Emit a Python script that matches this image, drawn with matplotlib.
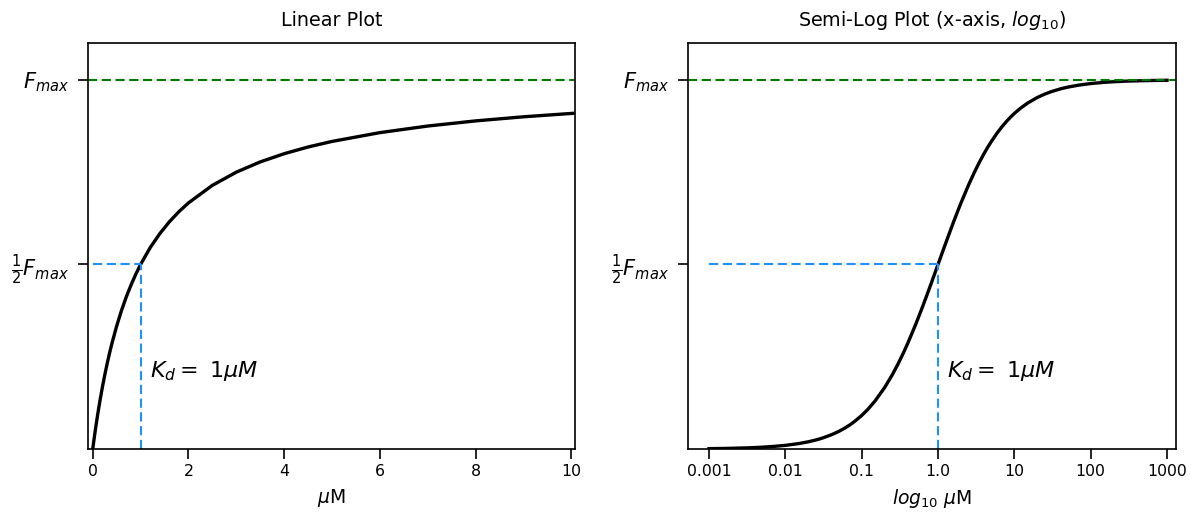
import matplotlib
matplotlib.use("Agg")
import matplotlib.pyplot as plt
from matplotlib.ticker import NullLocator

# Ligand concentration (uM) and fraction of maximal signal, Kd = 1 uM
conc = [0, 0.001, 0.0015, 0.002, 0.003, 0.004, 0.005, 0.007, 0.01, 0.015,
        0.02, 0.025, 0.03, 0.04, 0.05, 0.06, 0.07, 0.08, 0.1, 0.12, 0.15,
        0.2, 0.25, 0.3, 0.35, 0.4, 0.5, 0.6, 0.7, 0.8, 0.9, 1.0, 1.2, 1.4,
        1.6, 1.8, 2.0, 2.5, 3.0, 3.5, 4.0, 4.5, 5.0, 6.0, 7.0, 8.0, 9.0,
        10.0, 10.1, 12, 15, 20, 25, 30, 40, 50, 70, 100, 150, 200, 300, 500,
        1000]
frac_bound = [0.0, 0.001, 0.0015, 0.002, 0.003, 0.004, 0.005, 0.007, 0.0099,
              0.0148, 0.0196, 0.0244, 0.0291, 0.0385, 0.0476, 0.0566, 0.0654,
              0.0741, 0.0909, 0.1071, 0.1304, 0.1667, 0.2000, 0.2308, 0.2593,
              0.2857, 0.3333, 0.3750, 0.4118, 0.4444, 0.4737, 0.5000, 0.5455,
              0.5833, 0.6154, 0.6429, 0.6667, 0.7143, 0.7500, 0.7778, 0.8000,
              0.8182, 0.8333, 0.8571, 0.8750, 0.8889, 0.9000, 0.9091, 0.9099,
              0.9231, 0.9375, 0.9524, 0.9615, 0.9677, 0.9756, 0.9804, 0.9859,
              0.9901, 0.9934, 0.9950, 0.9967, 0.9980, 0.9990]

f_max = 1.0
kd = 1.0
lin_ticks = [0, 2, 4, 6, 8, 10]
log_ticks = [0.001, 0.01, 0.1, 1.0, 10, 100, 1000]
log_tick_labels = ["0.001", "0.01", "0.1", "1.0", "10", "100", "1000"]
y_ticks = [0.5 * f_max, f_max]
y_tick_labels = [r"$\frac{1}{2}F_{max}$", r"$F_{max}$"]

fig = plt.figure(figsize=(11.92, 5.16), dpi=100)
ax1 = fig.add_axes([0.0738, 0.1298, 0.4086, 0.7869])
ax2 = fig.add_axes([0.5772, 0.1298, 0.4094, 0.7869])

half = 0.5 * f_max
kd_label = r"$K_d =\ 1\mu M$"
dash = (0, (4.4, 2.2))
green = "#007a00"
blue = "dodgerblue"

# Linear axes
ax1.plot(conc, frac_bound, color="black", lw=2.4)
ax1.axhline(f_max, color=green, ls=dash, lw=1.5)
ax1.plot([0, kd], [half, half], color=blue, ls=dash, lw=1.5)
ax1.plot([kd, kd], [0, half], color=blue, ls=dash, lw=1.5)
ax1.set_xlim(-0.1, 10.08)
ax1.set_ylim(0, 1.1 * f_max)
ax1.set_xticks(lin_ticks)
ax1.set_xticklabels([str(t) for t in lin_ticks])
ax1.set_xlabel(r"$\mu$M", fontsize=13.5, labelpad=6)
ax1.set_title("Linear Plot", fontsize=13.8, pad=12)
ax1.text(1.2, 0.195, kd_label, fontsize=16)

# Semi-log axes
ax2.plot(conc[1:], frac_bound[1:], color="black", lw=2.4)
ax2.axhline(f_max, color=green, ls=dash, lw=1.5)
ax2.plot([0.001, kd], [half, half], color=blue, ls=dash, lw=1.5)
ax2.plot([kd, kd], [0, half], color=blue, ls=dash, lw=1.5)
ax2.set_xscale("log")
ax2.set_xlim(10 ** -3.275, 10 ** 3.118)
ax2.set_ylim(0, 1.1 * f_max)
ax2.set_xticks(log_ticks)
ax2.set_xticklabels(log_tick_labels)
ax2.xaxis.set_minor_locator(NullLocator())
ax2.set_xlabel(r"$log_{10}$ $\mu$M", fontsize=13.5, labelpad=6)
ax2.set_title(r"Semi-Log Plot (x-axis, $log_{10}$)", fontsize=13.8, pad=12)
ax2.text(1.3, 0.195, kd_label, fontsize=16)

for ax in (ax1, ax2):
    ax.set_yticks(y_ticks)
    ax.set_yticklabels(y_tick_labels, fontsize=15)
    ax.tick_params(axis="both", length=7, width=1.2)
    ax.tick_params(axis="y", pad=7)
    ax.tick_params(axis="x", labelsize=11.3)
    for sp in ax.spines.values():
        sp.set_linewidth(1.2)

fig.savefig("out.png", dpi=100)
